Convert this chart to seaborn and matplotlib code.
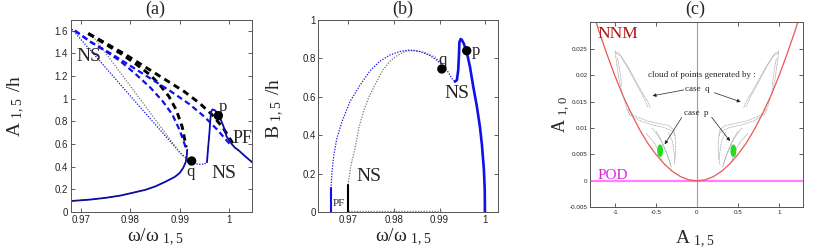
import matplotlib
matplotlib.use('Agg')
import matplotlib.pyplot as plt
import seaborn as sns
from matplotlib.patches import Ellipse

sns.set_style('ticks')
plt.rcParams['font.family'] = ['Liberation Serif', 'DejaVu Serif']
plt.rcParams['axes.linewidth'] = 0.7

# ---- data ----
# (a) amplitude A_1,5/h vs omega
a_low_x = [0.968, 0.972, 0.975, 0.978, 0.980, 0.983, 0.985, 0.987, 0.989, 0.990, 0.9907, 0.9912, 0.9914, 0.9915]
a_low_y = [0.097, 0.11, 0.125, 0.145, 0.165, 0.195, 0.225, 0.265, 0.31, 0.345, 0.39, 0.44, 0.49, 0.55]
a_rise_x = [0.9955, 0.9957, 0.9960, 0.99615, 0.9963, 0.9966, 0.9970, 0.9975, 0.9980, 0.9988, 0.99948,
            1.0005, 1.0011, 1.0020, 1.0030, 1.0046]
a_rise_y = [0.44, 0.55, 0.70, 0.80, 0.88, 0.905, 0.90, 0.88, 0.845, 0.76, 0.665, 0.60, 0.57, 0.54, 0.50, 0.44]
a_ns_x = [0.9682, 0.970, 0.975, 0.980, 0.985, 0.990, 0.9912, 0.9922, 0.9932, 0.9942, 0.9950, 0.9956]
a_ns_y = [1.613, 1.523, 1.274, 1.024, 0.775, 0.526, 0.48, 0.445, 0.425, 0.42, 0.425, 0.44]
a_gray_x = [0.9728, 0.975, 0.980, 0.985, 0.990, 0.9908]
a_gray_y = [1.53, 1.404, 1.111, 0.818, 0.526, 0.48]
a_ku_x = [0.9715, 0.975, 0.979, 0.983, 0.987, 0.991, 0.994, 0.9965, 0.9988, 1.0008]
a_ku_y = [1.575, 1.49, 1.39, 1.28, 1.17, 1.06, 0.96, 0.86, 0.74, 0.60]
a_bu_x = [0.9688, 0.972, 0.976, 0.980, 0.984, 0.988, 0.992, 0.995, 0.9975, 1.0005]
a_bu_y = [1.60, 1.50, 1.40, 1.29, 1.18, 1.07, 0.95, 0.84, 0.73, 0.58]
a_kl_x = [0.9715, 0.975, 0.978, 0.981, 0.984, 0.986, 0.9878, 0.9893, 0.9905, 0.9913]
a_kl_y = [1.575, 1.48, 1.40, 1.31, 1.21, 1.12, 1.02, 0.90, 0.75, 0.57]
a_bl_x = [0.9688, 0.972, 0.975, 0.978, 0.981, 0.984, 0.9865, 0.9885, 0.9900, 0.9912]
a_bl_y = [1.60, 1.50, 1.42, 1.33, 1.22, 1.10, 0.98, 0.86, 0.72, 0.57]
a_pts_x = [0.9924, 0.9978]
a_pts_y = [0.45, 0.85]

# (b) amplitude B_1,5/h vs omega
b_arch_x = [0.96629, 0.96651, 0.96683, 0.96753, 0.96869, 0.97044, 0.97262, 0.9748, 0.97699, 0.97917,
            0.98135, 0.98354, 0.98572, 0.9879, 0.98943, 0.99074, 0.99183, 0.99286, 0.99336]
b_arch_y = [0.123, 0.208, 0.281, 0.38, 0.47, 0.575, 0.66, 0.735, 0.786, 0.818,
            0.836, 0.844, 0.836, 0.815, 0.79, 0.762, 0.73, 0.69, 0.679]
b_gray_x = [0.970, 0.97022, 0.97066, 0.97153, 0.9724, 0.97334, 0.97459, 0.97627, 0.97764, 0.97917,
            0.98092, 0.98282, 0.98463, 0.98681, 0.98900, 0.99031]
b_gray_y = [0.141, 0.177, 0.245, 0.33, 0.44, 0.52, 0.60, 0.68, 0.74, 0.785,
            0.818, 0.839, 0.841, 0.831, 0.807, 0.776]
b_right_x = [0.99336, 0.9938, 0.99408, 0.99424, 0.99434, 0.99461, 0.99489, 0.99533, 0.99592, 0.99664,
             0.99736, 0.9981, 0.99882, 0.99926, 0.99969, 0.99987, 0.99991]
b_right_y = [0.679, 0.688, 0.740, 0.818, 0.885, 0.901, 0.896, 0.875, 0.835, 0.757,
             0.653, 0.557, 0.444, 0.349, 0.219, 0.115, 0.0]
b_pf_blue_x = [0.96629, 0.96629]
b_pf_blue_y = [0.0, 0.123]
b_pf_black_x = [0.970, 0.970]
b_pf_black_y = [0.0, 0.141]
b_base_x = [0.970, 0.9905]
b_base_y = [0.003, 0.003]
b_pts_x = [0.9905, 0.99594]
b_pts_y = [0.745, 0.84]

# (c) projection A_1,0 vs A_1,5
nnm_x = [-1.3, -1.2, -1.1, -1.0, -0.9, -0.8, -0.7, -0.6, -0.5, -0.4, -0.3, -0.2, -0.1, 0.0,
         0.1, 0.2, 0.3, 0.4, 0.5, 0.6, 0.7, 0.8, 0.9, 1.0, 1.1, 1.2, 1.3]
nnm_y = [0.0335, 0.0285, 0.0240, 0.0198, 0.0160, 0.0127, 0.0097, 0.0071, 0.0050, 0.0032, 0.0018, 0.0008, 0.0002, 0.0,
         0.0002, 0.0008, 0.0018, 0.0032, 0.0050, 0.0071, 0.0097, 0.0127, 0.0160, 0.0198, 0.0240, 0.0285, 0.0335]
# strokes of the left cloud (the right one is its mirror image)
cloud = [
    ([-1.0, -0.95, -0.85, -0.75, -0.66, -0.6, -0.57], [0.0245, 0.0241, 0.0218, 0.0190, 0.0165, 0.0150, 0.0138]),
    ([-0.99, -0.93, -0.83, -0.73, -0.65, -0.6], [0.0242, 0.0236, 0.0210, 0.0180, 0.0158, 0.0140]),
    ([-1.0, -0.98, -0.95, -0.9, -0.86, -0.82], [0.0245, 0.0222, 0.0190, 0.0160, 0.0138, 0.0125]),
    ([-0.97, -0.95, -0.93, -0.92], [0.0232, 0.0215, 0.0195, 0.0180]),
    ([-0.85, -0.75, -0.6, -0.45, -0.35, -0.28], [0.0135, 0.0122, 0.0113, 0.0108, 0.0105, 0.0096]),
    ([-0.83, -0.7, -0.55, -0.4, -0.3, -0.26], [0.0126, 0.0114, 0.0106, 0.0101, 0.0094, 0.0085]),
    ([-0.28, -0.26, -0.26, -0.28], [0.0096, 0.0075, 0.0050, 0.0030]),
    ([-0.55, -0.45, -0.37, -0.31], [0.0100, 0.0080, 0.0052, 0.0025]),
    ([-0.5, -0.42, -0.35, -0.32], [0.0094, 0.0072, 0.0045, 0.0030]),
    ([-0.62, -0.52, -0.45, -0.42], [0.0090, 0.0072, 0.0050, 0.0035]),
    ([-0.35, -0.3, -0.28, -0.27], [0.0092, 0.0075, 0.0055, 0.0040]),
]
green_x = [-0.45, 0.445]
green_y = [0.0057, 0.0057]

fig = plt.figure(figsize=(8.3, 2.52), dpi=100)
ax_a = fig.add_axes([0.0855, 0.1587, 0.2181, 0.7619])
ax_b = fig.add_axes([0.3837, 0.1587, 0.2166, 0.7619])
ax_c = fig.add_axes([0.7114, 0.1774, 0.2566, 0.7341])


def line(ax, x, y, **kw):
    sns.lineplot(x=x, y=y, ax=ax, sort=False, estimator=None, legend=False, **kw)


def box(ax, size):
    ax.tick_params(direction='in', top=True, right=True, length=3, width=0.6,
                   labelsize=size, color='#444444', pad=2)
    for s in ax.spines.values():
        s.set_color('#555555')
    for lab in ax.get_xticklabels() + ax.get_yticklabels():
        lab.set_family('Liberation Sans')


BLUE = '#1010ee'
# ---- (a) ----
ax = ax_a
line(ax, a_ns_x, a_ns_y, color=BLUE, lw=0.9, linestyle=(0, (1, 1.2)))
line(ax, a_gray_x, a_gray_y, color='#777777', lw=0.9, linestyle=(0, (1, 1.2)))
line(ax, a_ku_x, a_ku_y, color='black', lw=2.1, linestyle=(0, (2.2, 1.6)))
line(ax, a_kl_x, a_kl_y, color='black', lw=2.1, linestyle=(0, (2.2, 1.6)))
line(ax, a_bu_x, a_bu_y, color=BLUE, lw=1.6, linestyle=(0, (2.6, 1.6)))
line(ax, a_bl_x, a_bl_y, color=BLUE, lw=1.6, linestyle=(0, (2.6, 1.6)))
for xs, ys in [(a_low_x, a_low_y), (a_rise_x, a_rise_y)]:
    line(ax, xs, ys, color=BLUE, lw=1.3)
    line(ax, xs, ys, color='#101050', lw=0.6)
sns.scatterplot(x=a_pts_x, y=a_pts_y, ax=ax, color='black', s=45, edgecolor='none', zorder=5)
ax.set_xlim(0.968, 1.0046)
ax.set_ylim(0, 1.694)
ax.set_xticks([0.97, 0.98, 0.99, 1.0])
ax.set_xticklabels(['0.97', '0.98', '0.99', '1'])
ax.set_yticks([0, 0.2, 0.4, 0.6, 0.8, 1.0, 1.2, 1.4, 1.6])
ax.set_yticklabels(['0', '0.2', '0.4', '0.6', '0.8', '1', '1.2', '1.4', '1.6'])
ax.set_xlabel('')
ax.set_ylabel('')
box(ax, 7)
ax.text(0.9690, 1.37, 'NS', fontsize=14, va='center', ha='left')
ax.text(0.9964, 0.34, 'NS', fontsize=14, va='center', ha='left')
ax.text(1.0007, 0.65, 'PF', fontsize=13, va='center', ha='left')
ax.text(0.9922, 0.35, 'q', fontsize=12, va='center', ha='center')
ax.text(0.9988, 0.93, 'p', fontsize=12, va='center', ha='center')
ax.text(0.468, 1.057, '(a)', transform=ax.transAxes, fontsize=13, ha='center', va='center')
ax.text(0.468, -0.155, r'$\mathregular{\omega/\omega_{\ 1,5}}$', transform=ax.transAxes,
        fontsize=14, ha='center', va='baseline')
ax.text(-0.30, 0.55, r'$\mathregular{A_{\ 1,5}\ /h}$', transform=ax.transAxes,
        fontsize=14, ha='center', va='center', rotation=90)

# ---- (b) ----
ax = ax_b
line(ax, b_base_x, b_base_y, color='#888888', lw=1.0, linestyle=(0, (1, 1)))
line(ax, b_gray_x, b_gray_y, color='#777777', lw=0.9, linestyle=(0, (1, 1.2)))
line(ax, b_arch_x, b_arch_y, color=BLUE, lw=0.9, linestyle=(0, (1, 1.2)))
line(ax, b_right_x, b_right_y, color=BLUE, lw=1.9)
line(ax, b_pf_blue_x, b_pf_blue_y, color=BLUE, lw=1.5)
line(ax, b_pf_black_x, b_pf_black_y, color='black', lw=1.5)
sns.scatterplot(x=b_pts_x, y=b_pts_y, ax=ax, color='black', s=45, edgecolor='none', zorder=5)
ax.set_xlim(0.96356, 1.00282)
ax.set_ylim(0, 1)
ax.set_xticks([0.97, 0.98, 0.99, 1.0])
ax.set_xticklabels(['0.97', '0.98', '0.99', '1'])
ax.set_yticks([0, 0.2, 0.4, 0.6, 0.8, 1.0])
ax.set_yticklabels(['0', '0.2', '0.4', '0.6', '0.8', '1'])
ax.set_xlabel('')
ax.set_ylabel('')
box(ax, 7)
ax.text(0.9719, 0.184, 'NS', fontsize=14, va='center', ha='left')
ax.text(0.99386, 0.616, 'NS', fontsize=14, va='center', ha='center')
ax.text(0.9667, 0.045, 'PF', fontsize=8, va='center', ha='left')
ax.text(0.9906, 0.79, 'q', fontsize=12, va='center', ha='center')
ax.text(0.9980, 0.838, 'p', fontsize=12, va='center', ha='center')
ax.text(0.47, 1.057, '(b)', transform=ax.transAxes, fontsize=13, ha='center', va='center')
ax.text(0.47, -0.155, r'$\mathregular{\omega/\omega_{\ 1,5}}$', transform=ax.transAxes,
        fontsize=14, ha='center', va='baseline')
ax.text(-0.24, 0.54, r'$\mathregular{B_{\ 1,5}\ /h}$', transform=ax.transAxes,
        fontsize=14, ha='center', va='center', rotation=90)

# ---- (c) ----
ax = ax_c
ax.axhline(0, color='#ff80ff', lw=1.6, zorder=1)
ax.axvline(0, color='#ee66ee', lw=0.8, zorder=1)
line(ax, nnm_x, nnm_y, color='#ee5555', lw=0.9)
for xs, ys in cloud:
    line(ax, xs, ys, color='#999999', lw=0.5, linestyle=(0, (1.5, 0.8)))
    line(ax, [-v for v in xs], ys, color='#999999', lw=0.5, linestyle=(0, (1.5, 0.8)))
for gx, gy in zip(green_x, green_y):
    ax.add_patch(Ellipse((gx, gy), 0.055, 0.0021, color='#22dd22', zorder=4))
arrows = [((-0.126, 0.0173), (-0.575, 0.0160)), ((0.18, 0.01685), (0.566, 0.01477)),
          ((-0.167, 0.01245), (-0.412, 0.00647)), ((0.159, 0.01245), (0.424, 0.00711))]
for tail, head in arrows:
    ax.annotate('', xy=head, xytext=tail,
                arrowprops=dict(arrowstyle='-|>', lw=0.5, color='#222222', mutation_scale=5))
ax.text(0.057, 0.0200, 'cloud of points generated by :', fontsize=6.5, ha='center', va='center')
ax.text(0.006, 0.01736, 'case  q', fontsize=6.5, ha='center', va='center')
ax.text(-0.006, 0.0129, 'case  p', fontsize=6.5, ha='center', va='center')
ax.text(-0.97, 0.0277, 'NNM', fontsize=12.5, color='#b01010', ha='center', va='center')
ax.text(-1.03, 0.0011, 'POD', fontsize=11, color='#e020e0', ha='center', va='center')
ax.set_xlim(-1.3, 1.3)
ax.set_ylim(-0.005, 0.030)
ax.set_xticks([-1, -0.5, 0, 0.5, 1])
ax.set_xticklabels(['-1', '-0.5', '0', '0.5', '1'])
ax.set_yticks([-0.005, 0, 0.005, 0.01, 0.015, 0.02, 0.025])
ax.set_yticklabels(['-0.005', '0', '0.005', '0.01', '0.015', '0.02', '0.025'])
ax.set_xlabel('')
ax.set_ylabel('')
box(ax, 4.5)
ax.text(0.49, 1.072, '(c)', transform=ax.transAxes, fontsize=13, ha='center', va='center')
ax.text(0.49, -0.195, r'$\mathregular{A_{\ 1,5}}$', transform=ax.transAxes,
        fontsize=14, ha='center', va='baseline')
ax.text(-0.135, 0.5, r'$\mathregular{A_{\ 1,0}}$', transform=ax.transAxes,
        fontsize=13, ha='center', va='center', rotation=90)

fig.savefig('out.png', dpi=100)
